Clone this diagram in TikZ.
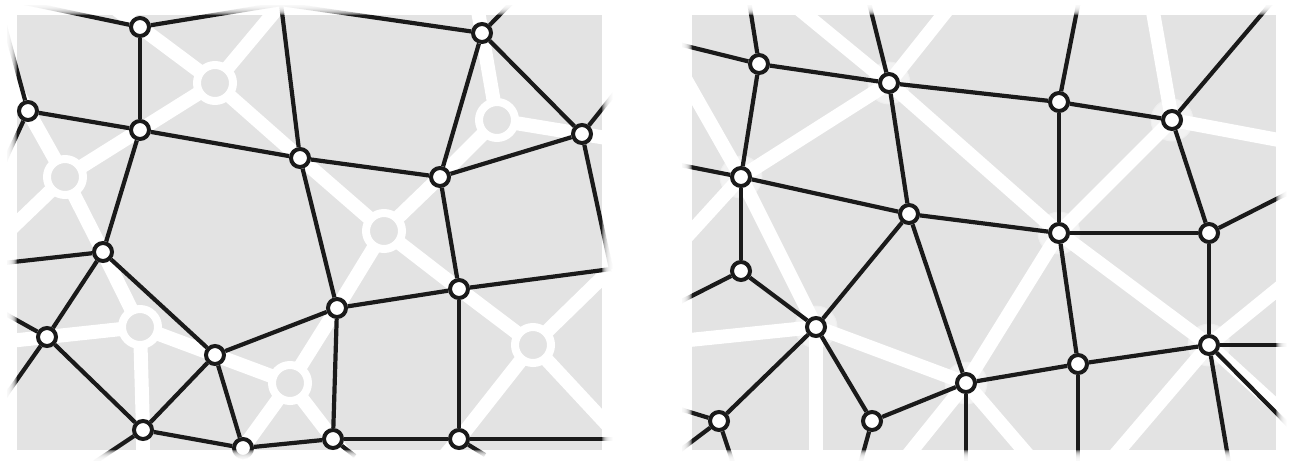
\documentclass[tikz,border=0pt]{standalone}
\definecolor{panelgray}{HTML}{E3E3E3}
\definecolor{ink}{HTML}{1A1A1A}
\definecolor{halocol}{HTML}{F2F2F2}
\pgfdeclarelayer{bg}
\pgfdeclarelayer{web}
\pgfsetlayers{bg,web,main}
\tikzset{
  vtx/.style={circle,draw=ink,line width=4pt,fill=white,minimum size=18pt,inner sep=0pt},
  ring/.style={circle,draw=white,line width=8pt,fill=panelgray,minimum size=36pt,inner sep=0pt},
  edge/.style={draw=ink,line width=4.2pt},
  wline/.style={draw=white,line width=14pt,line cap=butt},
  halo/.style={fill=halocol,draw=panelgray!60!white,line width=1pt},
  fadeframe/.style={draw=white,opacity=0.3}
}
\begin{document}
\begin{tikzpicture}[x=1pt,y=-1pt]
\useasboundingbox (0,0) rectangle (1292,466);
% ---------------- left panel: vertices ----------------
\node[vtx] (L1) at (140,27) {};
\node[vtx] (L2) at (482,33) {};
\node[vtx] (L3) at (28,111) {};
\node[vtx] (L4) at (140,130) {};
\node[vtx] (L5) at (300,158) {};
\node[vtx] (L6) at (582,134) {};
\node[vtx] (L7) at (440,177) {};
\node[vtx] (L8) at (103,252) {};
\node[vtx] (L9) at (337,308) {};
\node[vtx] (L10) at (459,289) {};
\node[vtx] (L11) at (47,337) {};
\node[vtx] (L12) at (215,355) {};
\node[vtx] (L13) at (143,430) {};
\node[vtx] (L14) at (243,448) {};
\node[vtx] (L15) at (333,439) {};
\node[vtx] (L16) at (459,439) {};
% dual rings
\node[ring] (D1) at (215,83) {};
\node[ring] (D2) at (65,177) {};
\node[ring] (D3) at (497,120) {};
\node[ring] (D4) at (384,231) {};
\node[ring] (D5) at (140,327) {};
\node[ring] (D6) at (290,383) {};
\node[ring] (D7) at (533,345) {};
% off-panel points (left)
\coordinate (O0) at (-3,-3);
\coordinate (O1) at (281,4);
\coordinate (O2) at (611,269);
\coordinate (a2) at (519,-5);
\coordinate (a3) at (622,84);
\coordinate (a5) at (-2,176);
\coordinate (a6) at (-5,264);
\coordinate (a7) at (-5,308);
\coordinate (a8) at (-5,411);
\coordinate (a9) at (95,462);
\coordinate (a10) at (355,456);
\coordinate (a11) at (485,455);
\coordinate (a12) at (625,439);
\coordinate (w1) at (100,-3);
\coordinate (w2) at (290,-8);
\coordinate (w3) at (-10,43);
\coordinate (w4) at (-10,249);
\coordinate (w5) at (475,-5);
\coordinate (w6) at (625,141);
\coordinate (w7) at (-10,343);
\coordinate (w8) at (143,480);
\coordinate (w9) at (223,475);
\coordinate (w10) at (361,475);
\coordinate (w11) at (428,475);
\coordinate (w12) at (632,250);
\coordinate (w13) at (640,460);
% ---------------- right panel: vertices ----------------
\node[vtx] (R1) at (759,64) {};
\node[vtx] (R2) at (889,83) {};
\node[vtx] (R3) at (1059,102) {};
\node[vtx] (R4) at (1172,120) {};
\node[vtx] (R5) at (741,177) {};
\node[vtx] (R6) at (909,214) {};
\node[vtx] (R7) at (1059,233) {};
\node[vtx] (R8) at (1209,233) {};
\node[vtx] (R9) at (741,271) {};
\node[vtx] (R10) at (816,327) {};
\node[vtx] (R11) at (966,383) {};
\node[vtx] (R12) at (1078,364) {};
\node[vtx] (R13) at (1209,345) {};
\node[vtx] (R14) at (719,421) {};
\node[vtx] (R15) at (872,421) {};
% off-panel points (right)
\coordinate (b1) at (748,-5);
\coordinate (b2) at (670,42);
\coordinate (b3) at (867,-5);
\coordinate (b4) at (1080,-5);
\coordinate (b5) at (1278,-5);
\coordinate (b6) at (670,163);
\coordinate (b7) at (1300,187);
\coordinate (b8) at (670,307);
\coordinate (b9) at (966,475);
\coordinate (b10) at (1078,475);
\coordinate (b11) at (1300,345);
\coordinate (b12) at (1300,437);
\coordinate (b13) at (1231,475);
\coordinate (b14) at (670,406);
\coordinate (b15) at (670,458);
\coordinate (b16) at (737,475);
\coordinate (b17) at (857,475);
\coordinate (c1) at (782,-5);
\coordinate (c2) at (1300,428);
\coordinate (c3) at (959,-5);
\coordinate (c4) at (670,52);
\coordinate (c5) at (670,255);
\coordinate (c6) at (670,342);
\coordinate (c7) at (816,475);
\coordinate (c8) at (892,475);
\coordinate (c9) at (1045,475);
\coordinate (c10) at (1150,-5);
\coordinate (c11) at (1300,144);
\coordinate (c12) at (1300,271);
\coordinate (c13) at (1098,475);
% ---------------- background: panels, halos, white web ----------------
\begin{pgfonlayer}{bg}
  \fill[panelgray] (17,15) rectangle (602,450);
  \fill[panelgray] (692,15) rectangle (1276,450);
  \begin{scope}
    \clip (7,5) rectangle (612,460);
    \foreach \p/\q in {w1/L1,L1/D1,D1/O1,O1/w2,D1/L5,L5/D4,D1/L4,L4/D2,
        D2/L3,L3/w3,D2/w4,D2/L8,L8/D5,D3/L2,L2/w5,D3/L6,L6/w6,D3/L7,L7/D4,
        D4/L9,L9/D6,D4/L10,L10/D7,D5/L11,L11/w7,D5/L13,L13/w8,D5/L12,L12/D6,
        D6/L14,L14/w9,D6/L15,L15/w10,D7/L16,L16/w11,D7/O2,O2/w12,D7/w13}
      \draw[wline] (\p.center) -- (\q.center);
  \end{scope}
  \begin{scope}
    \clip (682,5) rectangle (1286,460);
    \foreach \h in {R2,R4,R5,R7,R10,R11,R13}
      \filldraw[halo] (\h.center) circle (21pt);
    \foreach \p/\q in {c1/R2,R2/R7,R7/R13,R13/c2,R2/c3,R2/R5,R5/c4,R5/c5,
        R5/R10,R10/c6,R10/c7,R10/R11,R11/R7,R11/c8,R11/c9,R7/R4,R4/c10,
        R4/c11,R13/c12,R13/c13}
      \draw[wline] (\p.center) -- (\q.center);
  \end{scope}
\end{pgfonlayer}
% ---------------- black edges ----------------
\begin{pgfonlayer}{web}
  \begin{scope}
    \clip (7,5) rectangle (612,460);
    \foreach \p/\q in {L1/O0,L1/O1,O1/L2,O1/L5,L1/L4,L3/O0,L3/a5,L3/L4,
        L4/L5,L4/L8,L5/L7,L5/L9,L7/L2,L7/L6,L7/L10,L2/L6,L2/a2,L6/a3,L6/O2,
        L10/O2,L8/a6,L8/L11,L8/L12,L11/a7,L11/a8,L11/L13,L12/L13,L12/L9,
        L12/L14,L13/L14,L13/a9,L14/L15,L9/L10,L9/L15,L10/L16,L15/L16,
        L16/a12,L15/a10,L16/a11}
      \draw[edge] (\p) -- (\q);
  \end{scope}
  \begin{scope}
    \clip (682,5) rectangle (1286,460);
    \foreach \p/\q in {R1/b1,R1/b2,R1/R2,R1/R5,R2/b3,R2/R3,R2/R6,R3/b4,
        R3/R4,R3/R7,R4/b5,R4/R8,R5/b6,R5/R6,R5/R9,R6/R7,R6/R10,R6/R11,
        R7/R8,R7/R12,R8/b7,R8/R13,R9/b8,R9/R10,R10/R14,R10/R15,R11/R15,
        R11/R12,R11/b9,R12/R13,R12/b10,R13/b11,R13/b12,R13/b13,R14/b14,
        R14/b15,R14/b16,R15/b17}
      \draw[edge] (\p) -- (\q);
  \end{scope}
\end{pgfonlayer}
% ---------------- soft fading borders ----------------
\foreach \w in {2,4,...,20} {
  \draw[fadeframe,line width=\w pt] (7,5) rectangle (612,460);
  \draw[fadeframe,line width=\w pt] (682,5) rectangle (1286,460);
}
\end{tikzpicture}
\end{document}
